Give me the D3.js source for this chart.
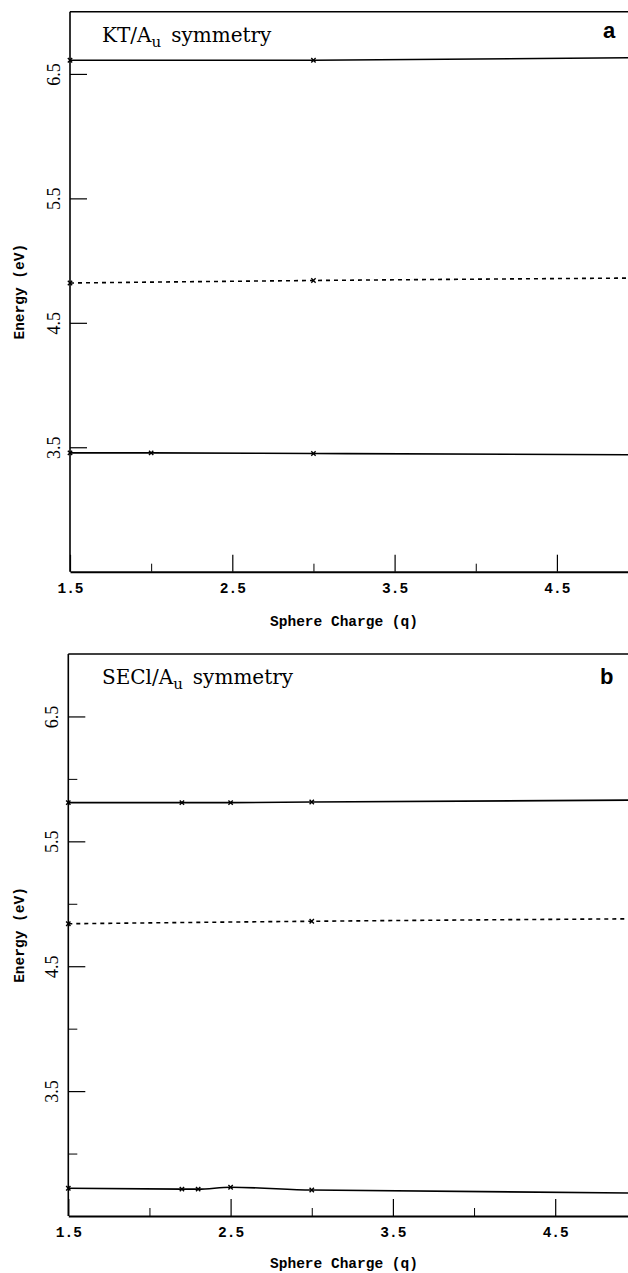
<!DOCTYPE html>
<html>
<head>
<meta charset="utf-8">
<script src="https://cdn.jsdelivr.net/npm/d3@7.9.0/dist/d3.min.js"></script>
<style>
  body { margin: 0; background: #fff; }
  svg { display: block; }
</style>
</head>
<body>
<script>
// ─── DATA ────────────────────────────────────────────────────────────────────
const xMajor = [1.5, 2.5, 3.5, 4.5];
const xMinor = [2.0, 3.0, 4.0];
const yMajor = [3.5, 4.5, 5.5, 6.5];
const yMinor = [3.0, 4.0, 5.0, 6.0];

// panel a : KT / Au
const ktUpperQ  = [1.5, 3.0, 5.0];
const ktUpperE  = [6.61, 6.61, 6.63];
const ktDashQ   = [1.5, 3.0, 5.0];
const ktDashE   = [4.82, 4.84, 4.86];
const ktLowerQ  = [1.5, 2.0, 3.0, 5.0];
const ktLowerE  = [3.455, 3.455, 3.45, 3.44];

// panel b : SECl / Au
const seUpperQ  = [1.5, 2.2, 2.5, 3.0, 5.0];
const seUpperE  = [5.81, 5.81, 5.81, 5.815, 5.83];
const seDashQ   = [1.5, 3.0, 5.0];
const seDashE   = [4.84, 4.86, 4.88];
const seLowerQ  = [1.5, 2.2, 2.3, 2.5, 3.0, 5.0];
const seLowerE  = [2.722, 2.715, 2.715, 2.73, 2.708, 2.684];

const zip = (q, e) => q.map((v, i) => ({ q: v, e: e[i] }));

// ─── SVG ─────────────────────────────────────────────────────────────────────
const W = 628, H = 1273;
const svg = d3.select('body').append('svg')
  .attr('width', W).attr('height', H);

const panels = [
  { left: 70,   top: 11.7, bottom: 571.7, minorY: false,
    title: 'KT/A', tag: 'a', tagX: 603, tagY: 38, labelY: 593, titleY: 626,
    series: [
      { d: zip(ktUpperQ, ktUpperE), dash: null },
      { d: zip(ktDashQ,  ktDashE),  dash: '4,4' },
      { d: zip(ktLowerQ, ktLowerE), dash: null }
    ] },
  { left: 68.3, top: 654, bottom: 1216, minorY: true,
    title: 'SECl/A', tag: 'b', tagX: 600, tagY: 684, labelY: 1237, titleY: 1268,
    series: [
      { d: zip(seUpperQ, seUpperE), dash: null },
      { d: zip(seDashQ,  seDashE),  dash: '4,4' },
      { d: zip(seLowerQ, seLowerE), dash: null }
    ] }
];

panels.forEach(drawPanel);

function drawPanel(p) {
  const x = d3.scaleLinear().domain([1.5, 5.0]).range([p.left, p.left + 3.5 * 162.3]);
  const y = d3.scaleLinear().domain([2.5, 7.0]).range([p.bottom, p.top]);
  const g = svg.append('g');

  // frame top
  g.append('line')
    .attr('x1', p.left).attr('x2', W + 10)
    .attr('y1', p.top).attr('y2', p.top)
    .attr('stroke', '#000').attr('stroke-width', 1.6);

  // x axis — major + minor inward ticks
  const xa = g.append('g')
    .attr('transform', `translate(0,${p.bottom})`)
    .call(d3.axisBottom(x).tickValues(xMajor).tickSize(-17).tickSizeOuter(0)
      .tickFormat(d3.format('.1f')));
  g.append('g')
    .attr('transform', `translate(0,${p.bottom})`)
    .call(d3.axisBottom(x).tickValues(xMinor).tickSize(-8).tickSizeOuter(0).tickFormat(''))
    .select('.domain').remove();
  xa.select('.domain').attr('stroke-width', 2);
  xa.selectAll('.tick line').attr('stroke-width', 1.2);
  xa.selectAll('.tick text')
    .attr('y', p.labelY - p.bottom).attr('dy', 0)
    .style('font-family', '"Liberation Mono", monospace')
    .style('font-weight', 'bold').style('font-size', '14.5px');

  // y axis
  const ya = g.append('g')
    .attr('transform', `translate(${p.left},0)`)
    .call(d3.axisLeft(y).tickValues(yMajor).tickSize(-17).tickSizeOuter(0)
      .tickFormat(d3.format('.1f')));
  ya.select('.domain').attr('d', `M0,${p.top}V${p.bottom}`).attr('stroke-width', 1.6);
  ya.selectAll('.tick line').attr('stroke-width', 1.2);
  ya.selectAll('.tick text')
    .attr('transform', 'rotate(-90)')
    .attr('x', 0).attr('y', -10.5).attr('dy', 0)
    .attr('text-anchor', 'middle')
    .style('font-family', '"Liberation Serif", serif')
    .style('font-size', '18px');
  if (p.minorY) {
    g.append('g')
      .attr('transform', `translate(${p.left},0)`)
      .call(d3.axisLeft(y).tickValues(yMinor).tickSize(-9).tickSizeOuter(0).tickFormat(''))
      .select('.domain').remove();
  }

  // axis titles
  g.append('text')
    .attr('x', 344).attr('y', p.titleY)
    .attr('text-anchor', 'middle')
    .style('font-family', '"Liberation Mono", monospace')
    .style('font-weight', 'bold').style('font-size', '14.5px')
    .text('Sphere Charge (q)');
  g.append('text')
    .attr('transform', `translate(24,${(p.top + p.bottom) / 2}) rotate(-90)`)
    .attr('text-anchor', 'middle')
    .style('font-family', '"Liberation Mono", monospace')
    .style('font-weight', 'bold').style('font-size', '14.5px')
    .text('Energy (eV)');

  // panel title with subscript
  const t = g.append('text')
    .attr('x', 102).attr('y', p.top + 30)
    .style('font-family', '"DejaVu Serif", serif')
    .style('font-size', '20px');
  t.append('tspan').text(p.title);
  t.append('tspan').attr('dy', 5).style('font-size', '15px').text('u');
  t.append('tspan').attr('dy', -5).text('\u2002symmetry');

  g.append('text')
    .attr('x', p.tagX).attr('y', p.tagY)
    .style('font-family', '"Liberation Sans", sans-serif')
    .style('font-weight', 'bold').style('font-size', '22px')
    .text(p.tag);

  // curves
  const line = d3.line().x(d => x(d.q)).y(d => y(d.e)).curve(d3.curveMonotoneX);
  p.series.forEach(s => {
    g.append('path')
      .datum(s.d)
      .attr('fill', 'none')
      .attr('stroke', '#000')
      .attr('stroke-width', 1.6)
      .attr('stroke-dasharray', s.dash)
      .attr('d', line);
    g.selectAll(null)
      .data(s.d)
      .enter().append('path')
        .attr('transform', d => `translate(${x(d.q)},${y(d.e)})`)
        .attr('d', d3.symbol(d3.symbolTimes, 14))
        .attr('fill', 'none')
        .attr('stroke', '#000')
        .attr('stroke-width', 1.4);
  });
}
</script>
</body>
</html>
